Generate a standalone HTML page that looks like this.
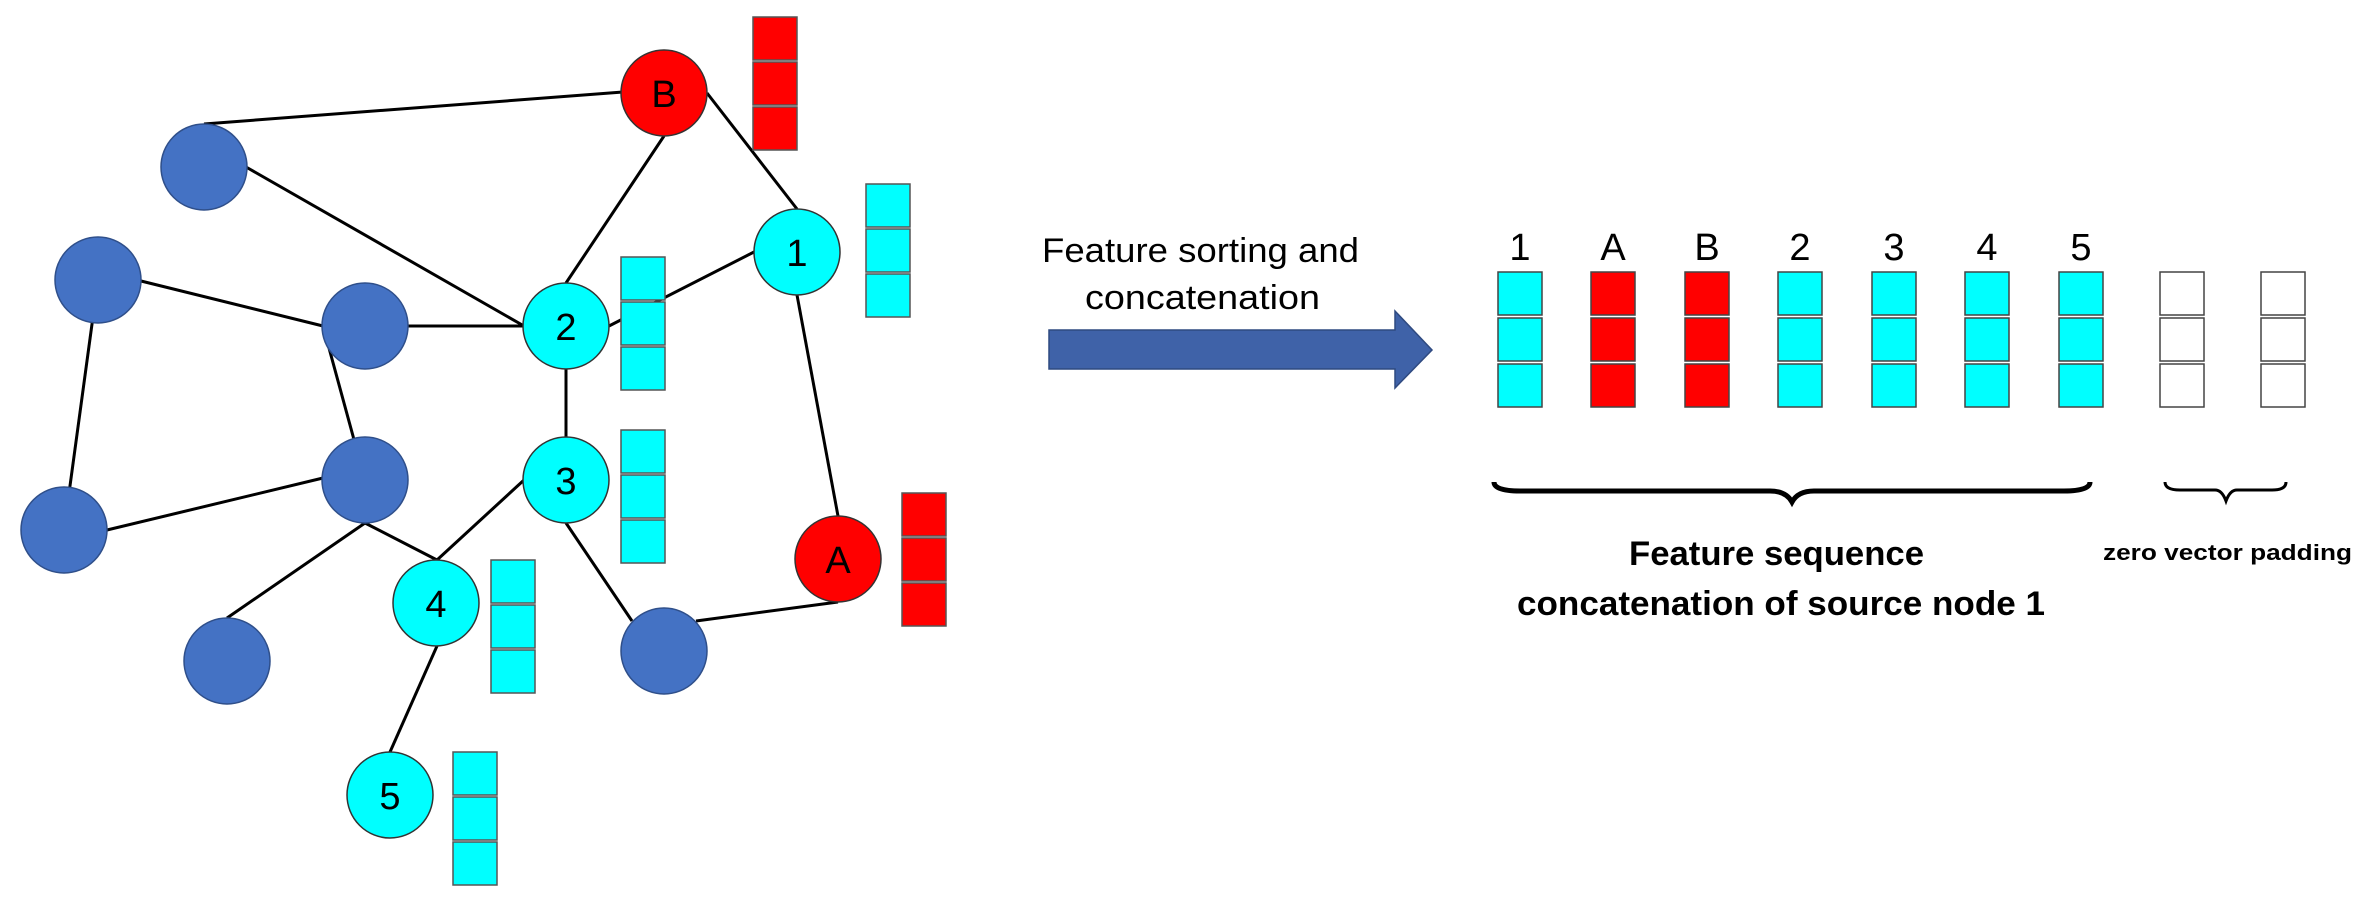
<!DOCTYPE html>
<html><head><meta charset="utf-8"><style>html,body{margin:0;padding:0;background:#fff}svg{display:block}</style></head>
<body>
<svg width="2368" height="903" viewBox="0 0 2368 903" xmlns="http://www.w3.org/2000/svg" font-family="Liberation Sans, sans-serif">
<g stroke="#000" stroke-width="3" fill="none">
<line x1="204" y1="124" x2="623" y2="92"/>
<line x1="246" y1="167" x2="524" y2="326"/>
<line x1="141" y1="281" x2="323" y2="326"/>
<line x1="365" y1="326" x2="566" y2="326"/>
<line x1="98" y1="280" x2="64" y2="530"/>
<line x1="323" y1="326" x2="365" y2="480"/>
<line x1="107" y1="530" x2="323" y2="478"/>
<line x1="365" y1="523" x2="437" y2="560"/>
<line x1="365" y1="523" x2="227" y2="618"/>
<line x1="524" y1="480" x2="437" y2="560"/>
<line x1="566" y1="326" x2="566" y2="480"/>
<line x1="664" y1="136" x2="566" y2="283"/>
<line x1="707" y1="93" x2="797" y2="209"/>
<line x1="754" y1="252" x2="609" y2="326"/>
<line x1="797" y1="295" x2="838" y2="516"/>
<line x1="566" y1="523" x2="632" y2="621"/>
<line x1="696" y1="621" x2="838" y2="602"/>
<line x1="437" y1="646" x2="390" y2="752"/>
</g>
<g stroke="#2f4f8a" stroke-width="1.5" fill="#4472C4">
<circle cx="204" cy="167" r="43"/>
<circle cx="98" cy="280" r="43"/>
<circle cx="365" cy="326" r="43"/>
<circle cx="365" cy="480" r="43"/>
<circle cx="64" cy="530" r="43"/>
<circle cx="227" cy="661" r="43"/>
<circle cx="664" cy="651" r="43"/>
</g>
<g stroke="#333" stroke-width="1.5">
<circle cx="664" cy="93" r="43" fill="#FF0000"/>
<circle cx="838" cy="559" r="43" fill="#FF0000"/>
<circle cx="797" cy="252" r="43" fill="#00FFFF"/>
<circle cx="566" cy="326" r="43" fill="#00FFFF"/>
<circle cx="566" cy="480" r="43" fill="#00FFFF"/>
<circle cx="436" cy="603" r="43" fill="#00FFFF"/>
<circle cx="390" cy="795" r="43" fill="#00FFFF"/>
</g>
<g font-size="38" text-anchor="middle" fill="#000">
<text x="664" y="107">B</text>
<text x="838" y="573">A</text>
<text x="797" y="266">1</text>
<text x="566" y="340">2</text>
<text x="566" y="494">3</text>
<text x="436" y="617">4</text>
<text x="390" y="809">5</text>
</g>
<g stroke="#555" stroke-width="1.5">
<g fill="#FF0000"><rect x="753" y="17" width="44" height="43"/><rect x="753" y="62" width="44" height="43"/><rect x="753" y="107" width="44" height="43"/></g>
<g fill="#FF0000"><rect x="902" y="493" width="44" height="43"/><rect x="902" y="538" width="44" height="43"/><rect x="902" y="583" width="44" height="43"/></g>
<g fill="#00FFFF">
<rect x="866" y="184" width="44" height="43"/><rect x="866" y="229" width="44" height="43"/><rect x="866" y="274" width="44" height="43"/>
<rect x="621" y="257" width="44" height="43"/><rect x="621" y="302" width="44" height="43"/><rect x="621" y="347" width="44" height="43"/>
<rect x="621" y="430" width="44" height="43"/><rect x="621" y="475" width="44" height="43"/><rect x="621" y="520" width="44" height="43"/>
<rect x="491" y="560" width="44" height="43"/><rect x="491" y="605" width="44" height="43"/><rect x="491" y="650" width="44" height="43"/>
<rect x="453" y="752" width="44" height="43"/><rect x="453" y="797" width="44" height="43"/><rect x="453" y="842" width="44" height="43"/>
</g>
</g>
<!-- arrow -->
<polygon points="1049,330 1395,330 1395,311 1432,350 1395,388 1395,369 1049,369" fill="#3F62A8" stroke="#2f4a80" stroke-width="1.5"/>
<text x="1042" y="262" font-size="34" textLength="317" lengthAdjust="spacingAndGlyphs">Feature sorting and</text>
<text x="1085" y="309" font-size="34" textLength="235" lengthAdjust="spacingAndGlyphs">concatenation</text>
<!-- sequence -->
<g font-size="38" text-anchor="middle">
<text x="1520" y="260">1</text><text x="1613" y="260">A</text><text x="1707" y="260">B</text><text x="1800" y="260">2</text><text x="1894" y="260">3</text><text x="1987" y="260">4</text><text x="2081" y="260">5</text>
</g>
<g stroke="#444" stroke-width="1.5">
<g fill="#00FFFF"><rect x="1498" y="272" width="44" height="43"/><rect x="1498" y="318" width="44" height="43"/><rect x="1498" y="364" width="44" height="43"/></g>
<g fill="#FF0000"><rect x="1591" y="272" width="44" height="43"/><rect x="1591" y="318" width="44" height="43"/><rect x="1591" y="364" width="44" height="43"/></g>
<g fill="#FF0000"><rect x="1685" y="272" width="44" height="43"/><rect x="1685" y="318" width="44" height="43"/><rect x="1685" y="364" width="44" height="43"/></g>
<g fill="#00FFFF"><rect x="1778" y="272" width="44" height="43"/><rect x="1778" y="318" width="44" height="43"/><rect x="1778" y="364" width="44" height="43"/></g>
<g fill="#00FFFF"><rect x="1872" y="272" width="44" height="43"/><rect x="1872" y="318" width="44" height="43"/><rect x="1872" y="364" width="44" height="43"/></g>
<g fill="#00FFFF"><rect x="1965" y="272" width="44" height="43"/><rect x="1965" y="318" width="44" height="43"/><rect x="1965" y="364" width="44" height="43"/></g>
<g fill="#00FFFF"><rect x="2059" y="272" width="44" height="43"/><rect x="2059" y="318" width="44" height="43"/><rect x="2059" y="364" width="44" height="43"/></g>
<g fill="#fff"><rect x="2160" y="272" width="44" height="43"/><rect x="2160" y="318" width="44" height="43"/><rect x="2160" y="364" width="44" height="43"/></g>
<g fill="#fff"><rect x="2261" y="272" width="44" height="43"/><rect x="2261" y="318" width="44" height="43"/><rect x="2261" y="364" width="44" height="43"/></g>
</g>
<!-- braces -->
<path d="M1494,482 Q1494,491 1520,491 L1770,491 Q1786,491 1792,502 Q1798,491 1814,491 L2064,491 Q2090,491 2090,482" fill="none" stroke="#000" stroke-width="5"/>
<path d="M2165,482 Q2165,490 2180,490 L2215,490 Q2222,490 2226,501 Q2230,490 2237,490 L2272,490 Q2286,490 2286,482" fill="none" stroke="#000" stroke-width="3"/>
<g font-weight="bold">
<text x="1629" y="565" font-size="34" textLength="295" lengthAdjust="spacingAndGlyphs">Feature sequence</text>
<text x="1517" y="615" font-size="34" textLength="528" lengthAdjust="spacingAndGlyphs">concatenation of source node 1</text>
<text x="2103" y="560" font-size="22" textLength="249" lengthAdjust="spacingAndGlyphs">zero vector padding</text>
</g>
</svg>
</body></html>
